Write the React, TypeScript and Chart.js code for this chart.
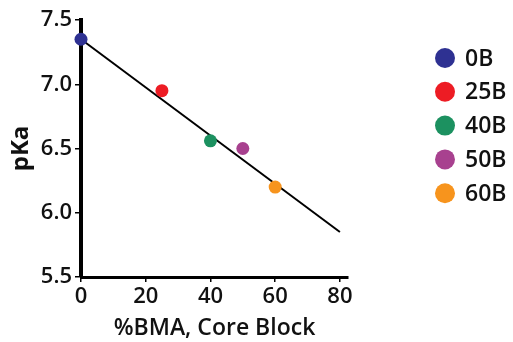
import React, { useEffect, useRef } from "react";
import { Chart, registerables } from "chart.js";

Chart.register(...registerables);

const labels = ["0B", "25B", "40B", "50B", "60B"];
const bmaPercent = [0, 25, 40, 50, 60];
const pKaValues = [7.35, 6.95, 6.56, 6.5, 6.2];
const colors = ["#2E3192", "#ED1C24", "#1C9160", "#A8418F", "#F7941D"];
const fitX = [0, 80];
const fitY = [7.35, 5.85];
const xTicks = [0, 20, 40, 60, 80];
const yTicks = [5.5, 6.0, 6.5, 7.0, 7.5];

const FONT = "'Open Sans', Lato, sans-serif";

const legendPlugin = {
  id: "customLegend",
  afterDraw(chart: any) {
    const ctx = chart.ctx;
    const x0 = chart.width - 68;
    const y0 = 58;
    const step = 33.8;
    ctx.save();
    ctx.font = `600 23px ${FONT}`;
    ctx.textBaseline = "middle";
    ctx.textAlign = "left";
    labels.forEach((lab, i) => {
      const y = y0 + i * step;
      ctx.beginPath();
      ctx.fillStyle = colors[i];
      ctx.arc(x0, y, 10, 0, Math.PI * 2);
      ctx.fill();
      ctx.fillStyle = "#111";
      ctx.fillText(lab, x0 + 20, y + 1);
    });
    ctx.restore();
  },
};

export default function App() {
  const ref = useRef<HTMLCanvasElement | null>(null);
  useEffect(() => {
    if (!ref.current) return;
    const datasets: any[] = labels.map((lab, i) => ({
      type: "scatter",
      label: lab,
      data: [{ x: bmaPercent[i], y: pKaValues[i] }],
      backgroundColor: colors[i],
      borderColor: colors[i],
      pointRadius: 6.5,
      pointBorderWidth: 0,
      order: 1,
      clip: false,
    }));
    datasets.push({
      type: "line",
      label: "fit",
      data: fitX.map((x, i) => ({ x, y: fitY[i] })),
      borderColor: "#000",
      borderWidth: 2,
      pointRadius: 0,
      fill: false,
      order: 2,
      clip: false,
    });
    const chart = new Chart(ref.current, {
      type: "scatter",
      data: { datasets },
      plugins: [legendPlugin],
      options: {
        animation: false,
        responsive: false,
        maintainAspectRatio: false,
        layout: { padding: { left: 0, right: 165, top: 20, bottom: 0 } },
        plugins: { legend: { display: false }, tooltip: { enabled: false } },
        scales: {
          x: {
            type: "linear",
            min: 0,
            max: 82.5,
            afterBuildTicks: (s: any) => {
              s.ticks = xTicks.map((v) => ({ value: v }));
            },
            afterFit: (s: any) => {
              s.height = 65;
            },
            border: { display: true, color: "#000", width: 3 },
            grid: { drawOnChartArea: false, drawTicks: true, tickLength: 5, color: "#000", lineWidth: 1.5 },
            ticks: {
              color: "#111",
              font: { family: FONT, size: 22, weight: "600" },
              padding: 2,
              maxRotation: 0,
            },
            title: {
              display: true,
              text: "%BMA, Core Block",
              color: "#111",
              font: { family: FONT, size: 23, weight: "600" },
              padding: { top: 2, bottom: 0 },
            },
          },
          y: {
            type: "linear",
            min: 5.5,
            max: 7.5,
            afterBuildTicks: (s: any) => {
              s.ticks = yTicks.map((v) => ({ value: v }));
            },
            afterFit: (s: any) => {
              s.width = 81;
            },
            border: { display: true, color: "#000", width: 4 },
            grid: { drawOnChartArea: false, drawTicks: true, tickLength: 6, color: "#000", lineWidth: 1.5 },
            ticks: {
              color: "#111",
              font: { family: FONT, size: 22, weight: "600" },
              padding: 3,
              callback: (v: any) => Number(v).toFixed(1),
            },
            title: {
              display: true,
              text: "pKa",
              color: "#111",
              font: { family: FONT, size: 24, weight: "bold" },
              padding: { top: 7, bottom: 0 },
            },
          },
        },
      },
    } as any);
    return () => chart.destroy();
  }, []);
  return (
    <div style={{ position: "fixed", left: 0, top: 0, width: 513, height: 342, background: "#fff" }}>
      <canvas ref={ref} width={513} height={342} style={{ width: 513, height: 342 }} />
    </div>
  );
}
